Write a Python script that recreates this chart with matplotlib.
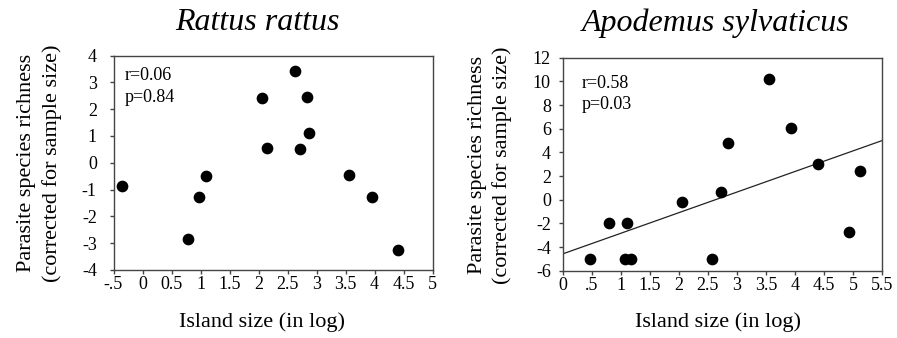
import matplotlib
matplotlib.use("Agg")
import matplotlib.pyplot as plt

# Rattus rattus
rat_x = [-0.36, 0.78, 0.975, 1.10, 2.055, 2.14, 2.63, 2.71, 2.84, 2.87, 3.56, 3.95, 4.40]
rat_y = [-0.85, -2.86, -1.28, -0.49, 2.41, 0.55, 3.41, 0.50, 2.45, 1.12, -0.45, -1.28, -3.24]
rat_xticks = [-0.5, 0, 0.5, 1, 1.5, 2, 2.5, 3, 3.5, 4, 4.5, 5]
rat_xticklabels = ["-.5", "0", "0.5", "1", "1.5", "2", "2.5", "3", "3.5", "4", "4.5", "5"]
rat_yticks = [-4, -3, -2, -1, 0, 1, 2, 3, 4]
rat_yticklabels = ["-4", "-3", "-2", "-1", "0", "1", "2", "3", "4"]

# Apodemus sylvaticus
apo_x = [0.47, 0.79, 1.07, 1.11, 1.18, 2.06, 2.57, 2.73, 2.84, 3.55, 3.93, 4.40, 4.92, 5.12]
apo_y = [-5.0, -2.0, -5.0, -2.0, -5.0, -0.19, -5.0, 0.66, 4.83, 10.16, 6.05, 3.01, -2.74, 2.45]
apo_line_x = [0, 5.5]
apo_line_y = [-4.58, 5.0]
apo_xticks = [0, 0.5, 1, 1.5, 2, 2.5, 3, 3.5, 4, 4.5, 5, 5.5]
apo_xticklabels = ["0", ".5", "1", "1.5", "2", "2.5", "3", "3.5", "4", "4.5", "5", "5.5"]
apo_yticks = [-6, -4, -2, 0, 2, 4, 6, 8, 10, 12]
apo_yticklabels = ["-6", "-4", "-2", "0", "2", "4", "6", "8", "10", "12"]

plt.rcParams['font.family'] = ['Liberation Serif', 'DejaVu Serif']

fig = plt.figure(figsize=(8.97, 3.38), dpi=100)
W, H = 897, 338
TICK = 13
LAB = 16
ANN = 13

def setup(ax, ypad):
    for s in ax.spines.values():
        s.set_color('#444444')
        s.set_linewidth(1.0)
    ax.tick_params(direction='out', length=3, width=1, color='#444444',
                   labelsize=TICK, top=False, right=False)
    ax.tick_params(axis='x', pad=1.5)
    ax.tick_params(axis='y', pad=ypad)

def rect(l, t, r, b):
    return [l / W, 1 - b / H, (r - l) / W, (b - t) / H]

ax1 = fig.add_axes(rect(113.5, 55.5, 432.5, 270))
ax1.scatter(rat_x, rat_y, s=55, color='black', zorder=3)
ax1.set_xlim(-0.5, 5)
ax1.set_ylim(-4, 4)
ax1.set_xticks(rat_xticks)
ax1.set_xticklabels(rat_xticklabels)
ax1.set_yticks(rat_yticks)
ax1.set_yticklabels(rat_yticklabels)
setup(ax1, 9.0)
ax1.text(125 / W, 1 - 76 / H, "r=0.06", transform=fig.transFigure, fontsize=ANN, va='center', ha='left')
ax1.text(125 / W, 1 - 97 / H, "p=0.84", transform=fig.transFigure, fontsize=ANN, va='center', ha='left')

ax2 = fig.add_axes(rect(562.7, 57.7, 882.2, 270.7))
ax2.scatter(apo_x, apo_y, s=55, color='black', zorder=3)
ax2.plot(apo_line_x, apo_line_y, color='#222222', lw=0.9)
ax2.set_xlim(0, 5.5)
ax2.set_ylim(-6, 12)
ax2.set_xticks(apo_xticks)
ax2.set_xticklabels(apo_xticklabels)
ax2.set_yticks(apo_yticks)
ax2.set_yticklabels(apo_yticklabels)
setup(ax2, 5.5)
ax2.text(582 / W, 1 - 83 / H, "r=0.58", transform=fig.transFigure, fontsize=ANN, va='center', ha='left')
ax2.text(582 / W, 1 - 105 / H, "p=0.03", transform=fig.transFigure, fontsize=ANN, va='center', ha='left')

# titles
fig.text(257 / W, 1 - 23 / H, "Rattus rattus", fontsize=23, style='italic', ha='center', va='center')
fig.text(716 / W, 1 - 23 / H, "Apodemus sylvaticus", fontsize=23, style='italic', ha='center', va='center')

# axis labels
for cx in [262, 718]:
    fig.text(cx / W, 1 - 322 / H, "Island size (in log)", fontsize=LAB, ha='center', va='center')
for x0, cy in [(0, 163), (450, 165)]:
    fig.text((x0 + 27) / W, 1 - cy / H, "Parasite species richness", fontsize=LAB,
             rotation=90, ha='center', va='center')
    fig.text((x0 + 52) / W, 1 - cy / H, "(corrected for sample size)", fontsize=LAB,
             rotation=90, ha='center', va='center')

fig.savefig("out.png", dpi=100)
